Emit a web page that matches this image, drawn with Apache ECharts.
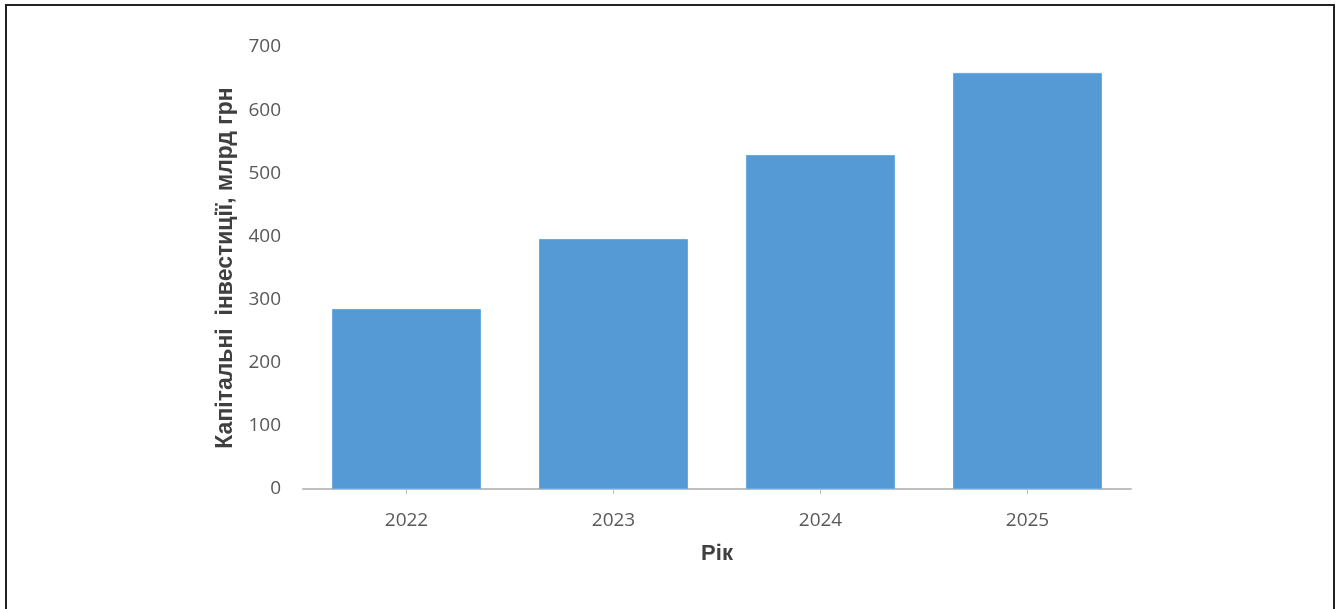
<!DOCTYPE html>
<html>
<head>
<meta charset="utf-8">
<script src="https://cdn.jsdelivr.net/npm/echarts@6/dist/echarts.min.js"></script>
<style>
html,body{margin:0;padding:0;background:#fff;}
#chart{width:1338px;height:609px;}
</style>
</head>
<body>
<div id="chart"></div>
<script>
const categories = ['2022', '2023', '2024', '2025'];
const values = [285, 396, 529, 659];
const yTicks = { min: 0, max: 700, interval: 100 };
const yName = 'Капітальні  інвестиції, млрд грн';
const xName = 'Рік';

const chart = echarts.init(document.getElementById('chart'));
chart.setOption({
  animation: false,
  backgroundColor: '#ffffff',
  graphic: [{
    type: 'rect',
    shape: { x: 6, y: 5, width: 1328, height: 700 },
    style: { fill: 'none', stroke: '#222222', lineWidth: 2 },
    silent: true
  }],
  grid: { left: 303, right: 207, top: 47, bottom: 120 },
  xAxis: {
    type: 'category',
    data: categories,
    name: xName,
    nameLocation: 'middle',
    nameGap: 54,
    nameTextStyle: { fontFamily: 'Liberation Sans', fontWeight: 'bold', fontSize: 22, color: '#404040' },
    axisLine: { lineStyle: { color: '#bfbfbf', width: 2 } },
    axisTick: { show: true, alignWithLabel: true, length: 5, lineStyle: { color: '#bfbfbf', width: 1 } },
    axisLabel: { margin: 22, fontFamily: 'Open Sans', fontSize: 19, color: '#595959' }
  },
  yAxis: {
    type: 'value',
    min: yTicks.min, max: yTicks.max, interval: yTicks.interval,
    name: yName,
    nameLocation: 'middle',
    nameGap: 60,
    nameTextStyle: { fontFamily: 'Liberation Sans', fontWeight: 'bold', fontSize: 23, color: '#404040' },
    axisLine: { show: false },
    axisTick: { show: false },
    splitLine: { show: false },
    axisLabel: { margin: 22, fontFamily: 'Open Sans', fontSize: 19, color: '#595959' }
  },
  series: [{
    type: 'bar',
    data: values,
    barWidth: '72%',
    itemStyle: { color: '#559ad5', borderColor: '#6aaae0', borderWidth: 1 }
  }]
});
</script>
</body>
</html>
